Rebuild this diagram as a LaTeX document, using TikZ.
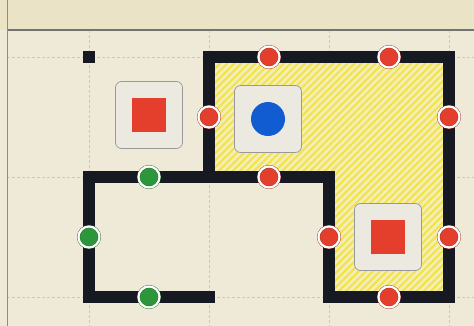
\documentclass[tikz,border=0pt]{standalone}
\usepackage{tikz}
\usetikzlibrary{patterns.meta}

\begin{document}
\begin{tikzpicture}[x=1pt,y=-1pt,line width=0.4pt]
\definecolor{figcream}{RGB}{239,234,216}
\definecolor{figstrip}{RGB}{234,227,198}
\definecolor{figtile}{RGB}{236,233,224}
\definecolor{figwall}{RGB}{22,25,33}
\definecolor{figred}{RGB}{228,62,44}
\definecolor{figgreen}{RGB}{44,150,58}
\definecolor{figblue}{RGB}{18,92,210}
\definecolor{figyellow}{RGB}{242,226,70}
\definecolor{figpale}{RGB}{244,238,180}
\tikzset{
  wall/.style={draw=figwall,line width=11.5pt,line cap=rect,line join=miter},
  gridline/.style={draw=black!22,densely dashed,line width=0.5pt},
  dotred/.style={circle,inner sep=0pt,minimum size=21pt,fill=figred,draw=figred!70!black,line width=0.4pt,double=white,double distance=2.2pt},
  dotgreen/.style={dotred,fill=figgreen,draw=figgreen!70!black},
  tile/.style={rectangle,rounded corners=6pt,minimum size=67pt,inner sep=0pt,fill=figtile,draw=black!40,line width=0.7pt},
}
\useasboundingbox (0,0) rectangle (474,326);
\fill[figcream] (0,0) rectangle (474,326);
\fill[figstrip] (0,0) rectangle (474,30);
\foreach \gx in {89,209,329,449} \draw[gridline] (\gx,30) -- (\gx,326);
\foreach \gy in {57,177,297} \draw[gridline] (7,\gy) -- (474,\gy);
\draw[draw=black!55,line width=1.4pt] (7,30) -- (474,30);
\draw[draw=black!45,line width=1pt] (7,0) -- (7,326);
\coordinate (a1) at (209,57);
\coordinate (a2) at (449,57);
\coordinate (b0) at (89,177);
\coordinate (b1) at (209,177);
\coordinate (b2) at (329,177);
\coordinate (c0) at (89,297);
\coordinate (c1) at (209,297);
\coordinate (c2) at (329,297);
\coordinate (c3) at (449,297);
\fill[figpale] (a1) -- (a2) -- (c3) -- (c2) -- (b2) -- (b1) -- cycle;
\fill[pattern={Lines[angle=45,distance=5pt,line width=1.9pt]},pattern color=figyellow] (a1) -- (a2) -- (c3) -- (c2) -- (b2) -- (b1) -- cycle;
\node[fill=figwall,minimum size=12pt,inner sep=0pt] (start) at (89,57) {};
\node[tile] (tileA) at (149,115) {};
\node[fill=figred,minimum size=34pt,inner sep=0pt] (sqA) at (tileA) {};
\node[tile] (tileB) at (268,119) {};
\node[circle,fill=figblue,minimum size=34pt,inner sep=0pt] (disc) at (tileB) {};
\node[tile] (tileC) at (388,237) {};
\node[fill=figred,minimum size=34pt,inner sep=0pt] (sqC) at (tileC) {};
\draw[wall] (c1) -- (c0) -- (b0) -- (b2) -- (c2) -- (c3) -- (a2) -- (a1) -- (b1);
\node[dotred] (r1) at (269,57) {};
\node[dotred] (r2) at (389,57) {};
\node[dotred] (r3) at (209,117) {};
\node[dotred] (r4) at (449,117) {};
\node[dotred] (r5) at (269,177) {};
\node[dotred] (r6) at (329,237) {};
\node[dotred] (r7) at (449,237) {};
\node[dotred] (r8) at (389,297) {};
\node[dotgreen] (g1) at (149,177) {};
\node[dotgreen] (g2) at (89,237) {};
\node[dotgreen] (g3) at (149,297) {};
\end{tikzpicture}
\end{document}
